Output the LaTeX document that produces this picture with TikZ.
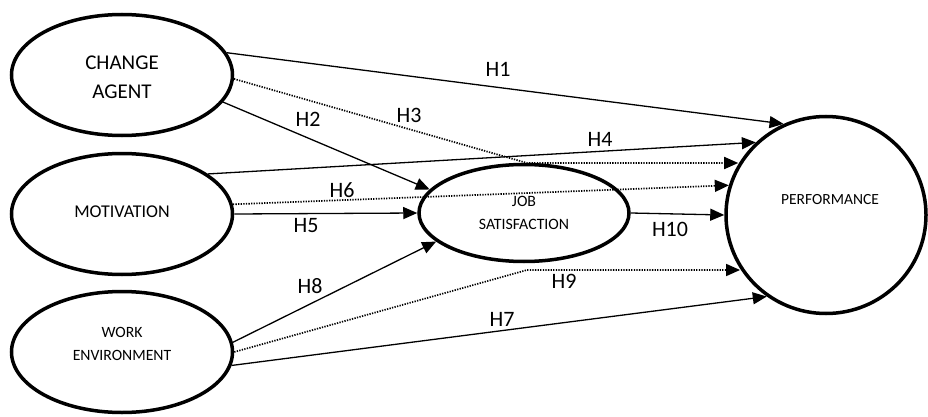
\documentclass[tikz,border=0pt]{standalone}
\usepackage{fontspec}
\setmainfont{Carlito}
\usetikzlibrary{arrows.meta,shapes.geometric}
\begin{document}
\begin{tikzpicture}[x=1pt,y=-1pt,
  construct/.style={ellipse,draw,line width=3.5pt,inner sep=0pt},
  link/.style={line width=1.3pt,-{Triangle[length=14pt,width=12pt]}},
  dotlink/.style={link,line width=1.7pt,dash pattern=on 1.3pt off 1.3pt},
  hlabel/.style={inner sep=0pt,font=\fontsize{22}{24}\selectfont},
  ctext/.style={inner sep=0pt,align=center}
]
\useasboundingbox (0,0) rectangle (928,417);
% constructs
\node[construct,minimum width=221pt,minimum height=121pt] (ca) at (122,75) {};
\node[construct,minimum width=221pt,minimum height=121pt] (mo) at (122,214) {};
\node[construct,minimum width=221pt,minimum height=121pt] (we) at (122,352) {};
\node[construct,minimum width=210pt,minimum height=97pt] (js) at (524,213) {};
\node[construct,minimum width=200pt,minimum height=197pt] (perf) at (826,215) {};
% construct texts
\node[ctext,font=\fontsize{21}{29}\selectfont] (tca) at (122,77) {CHANGE\\AGENT};
\node[ctext,font=\fontsize{18}{22}\selectfont] (tmo) at (122,212) {MOTIVATION};
\node[ctext,font=\fontsize{15.7}{23}\selectfont] (twe) at (122,344) {WORK\\ENVIRONMENT};
\node[ctext,font=\fontsize{15.8}{23}\selectfont] (tjs) at (524,213) {JOB\\SATISFACTION};
\node[ctext,font=\fontsize{15.5}{20}\selectfont] (tpf) at (830,200) {PERFORMANCE};
% bends
\coordinate (b3) at (527,163);
\coordinate (b9) at (527,270);
% connectors
\draw[link] (ca.12) -- (perf.115);
\draw[link] (ca.-15) -- (js.166);
\draw[dotlink] (ca.-2) -- (b3) -- (b3 -| perf.150);
\draw[link] (mo.25) -- (perf.134);
\draw[dotlink] (mo.5) -- (perf.163);
\draw[link] (mo.0) -- (js.180);
\draw[link] (we.5) -- (js.198);
\draw[dotlink] (we.0) -- (b9) -- (b9 -| perf.212);
\draw[link] (we.-7) -- (perf.234);
\draw[link] (js.0) -- (perf.180);
% labels
\node[hlabel] (h1) at (498,69) {H1};
\node[hlabel] (h2) at (308,119) {H2};
\node[hlabel] (h3) at (409,115) {H3};
\node[hlabel] (h4) at (600,139) {H4};
\node[hlabel] (h6) at (342,190) {H6};
\node[hlabel] (h5) at (306,226) {H5};
\node[hlabel] (h8) at (310,286) {H8};
\node[hlabel] (h10) at (670,229) {H10};
\node[hlabel] (h9) at (564,281) {H9};
\node[hlabel] (h7) at (502,319) {H7};
\end{tikzpicture}
\end{document}
